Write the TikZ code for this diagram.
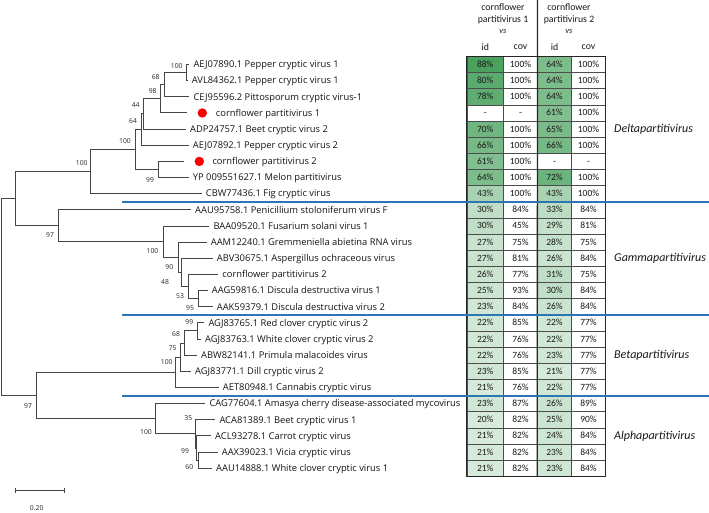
\documentclass[tikz,border=0pt]{standalone}
\usepackage{fontspec}
\newfontfamily\treefont{Open Sans}
\newfontfamily\tabfont{Carlito}
\definecolor{tline}{RGB}{70,70,70}
\definecolor{gmax}{RGB}{74,162,94}
\definecolor{bline}{RGB}{46,117,182}
\definecolor{dotred}{RGB}{250,0,0}
\newcommand\cellval[1]{\ifnum#1=0 -\else#1\%\fi}
\begin{document}
\begin{tikzpicture}[x=1pt,y=-1pt,
  tree/.style={draw=tline, line width=1pt},
  leaf/.style={anchor=west, inner sep=0pt, text height=8.5pt, text depth=2pt, font=\treefont\fontsize{9.35}{11}\selectfont, text=black!92},
  boot/.style={inner sep=0pt, font=\treefont\fontsize{6.8}{8}\selectfont, text=black!85},
  cell/.style={draw=black!70, line width=0.5pt, minimum height=16.15pt, inner sep=0pt, font=\tabfont\fontsize{9.5}{11}\selectfont, text height=6.5pt, text depth=0.6pt, text=black!90},
  head/.style={inner sep=0pt, font=\tabfont\fontsize{9.8}{11}\selectfont, text=black!90},
  grp/.style={anchor=west, inner sep=0pt, font=\tabfont\itshape\fontsize{12}{14}\selectfont, text=black!90},
  rdot/.style={circle, fill=dotred, minimum size=9.4pt, inner sep=0pt},
  sep/.style={draw=bline, line width=1.7pt}]
\useasboundingbox (0,0) rectangle (709,512);
\fill[white] (0,0) rectangle (709,512);

% ---------- table ----------
\foreach \a/\b/\c/\d [count=\i] in {88/100/64/100, 80/100/64/100, 78/100/64/100, 0/0/61/100, 70/100/65/100, 66/100/66/100, 61/100/0/0, 64/100/72/100, 43/100/43/100, 30/84/33/84, 30/45/29/81, 27/75/28/75, 27/81/26/84, 26/77/31/75, 25/93/30/84, 23/84/26/84, 22/85/22/77, 22/76/22/77, 22/76/23/77, 23/85/21/77, 21/76/22/77, 23/87/26/89, 20/82/25/90, 21/82/24/84, 21/82/23/84, 21/82/23/84}{
  \pgfmathsetmacro\yy{64.5+(\i-1)*16.15}
  \pgfmathtruncatemacro\pa{\a*100/88}
  \pgfmathtruncatemacro\pc{\c*100/88}
  \node[cell, minimum width=36.5pt, fill=gmax!\pa!white] (t\i-a) at (485.25,\yy) {\cellval\a};
  \node[cell, minimum width=34pt, fill=white] (t\i-b) at (520.5,\yy) {\cellval\b};
  \node[cell, minimum width=34pt, fill=gmax!\pc!white] (t\i-c) at (554.5,\yy) {\cellval\c};
  \node[cell, minimum width=34pt, fill=white] (t\i-d) at (588.5,\yy) {\cellval\d};
}
\draw[line width=1.3pt, black!85] (t1-a.north west) rectangle (t26-d.south east);
\coordinate (vtop) at (537.5,0);
\draw[line width=1.3pt, black!85] (vtop) -- (t26-c.south west);

% headers
\node[head] (h1a) at (503,7) {cornflower};
\node[head] (h1b) at (503,20) {partitivirus 1};
\node[head, font=\tabfont\itshape\fontsize{8.5}{9}\selectfont] (h1c) at (503,31.7) {vs};
\node[head] (h2a) at (569,7) {cornflower};
\node[head] (h2b) at (569,20) {partitivirus 2};
\node[head, font=\tabfont\itshape\fontsize{8.5}{9}\selectfont] (h2c) at (569,31.7) {vs};
\node[head] (hid1) at (485.25,46.7) {id};
\node[head] (hcov1) at (520.5,46.7) {cov};
\node[head] (hid2) at (554.5,46.7) {id};
\node[head] (hcov2) at (588.5,46.7) {cov};

% group labels
\node[grp] (gD) at (614,129.1) {Deltapartitivirus};
\node[grp] (gG) at (614,258.3) {Gammapartitivirus};
\node[grp] (gB) at (614,355.2) {Betapartitivirus};
\node[grp] (gA) at (614,435.95) {Alphapartitivirus};

% ---------- leaves ----------
\node[leaf] (l1) at (193.3,64.5) {AEJ07890.1 Pepper cryptic virus 1};
\node[leaf] (l2) at (191.7,80.65) {AVL84362.1 Pepper cryptic virus 1};
\node[leaf] (l3) at (193.3,96.8) {CEJ95596.2 Pittosporum cryptic virus-1};
\node[rdot] (d4) at (202.3,112.95) {};
\node[leaf] (l4) at (215.7,112.95) {cornflower partitivirus 1};
\coordinate (e4) at (186.7,112.95);
\node[leaf] (l5) at (190,129.1) {ADP24757.1 Beet cryptic virus 2};
\node[leaf] (l6) at (192.7,145.25) {AEJ07892.1 Pepper cryptic virus 2};
\node[rdot] (d7) at (199.3,161.4) {};
\node[leaf] (l7) at (212.3,161.4) {cornflower partitivirus 2};
\coordinate (e7) at (184.3,161.4);
\node[leaf] (l8) at (192.7,177.55) {YP 009551627.1 Melon partitivirus};
\node[leaf] (l9) at (205.7,193.7) {CBW77436.1 Fig cryptic virus};
\node[leaf] (l10) at (195,209.85) {AAU95758.1 Penicillium stoloniferum virus F};
\node[leaf] (l11) at (213.3,226) {BAA09520.1 Fusarium solani virus 1};
\node[leaf] (l12) at (210.7,242.15) {AAM12240.1 Gremmeniella abietina RNA virus};
\node[leaf] (l13) at (216.7,258.3) {ABV30675.1 Aspergillus ochraceous virus};
\node[leaf] (l14) at (222.2,274.45) {cornflower partitivirus 2};
\node[leaf] (l15) at (211.7,290.6) {AAG59816.1 Discula destructiva virus 1};
\node[leaf] (l16) at (216.7,306.75) {AAK59379.1 Discula destructiva virus 2};
\node[leaf] (l17) at (208.3,322.9) {AGJ83765.1 Red clover cryptic virus 2};
\node[leaf] (l18) at (205,339.05) {AGJ83763.1 White clover cryptic virus 2};
\node[leaf] (l19) at (201,355.2) {ABW82141.1 Primula malacoides virus};
\node[leaf] (l20) at (195,371.35) {AGJ83771.1 Dill cryptic virus 2};
\node[leaf] (l21) at (222.7,387.5) {AET80948.1 Cannabis cryptic virus};
\node[leaf] (l22) at (209.3,403.65) {CAG77604.1 Amasya cherry disease-associated mycovirus};
\node[leaf] (l23) at (219.3,419.8) {ACA81389.1 Beet cryptic virus 1};
\node[leaf] (l24) at (215,435.95) {ACL93278.1 Carrot cryptic virus};
\node[leaf] (l25) at (221.7,452.1) {AAX39023.1 Vicia cryptic virus};
\node[leaf] (l26) at (216,468.25) {AAU14888.1 White clover cryptic virus 1};

% ---------- internal nodes ----------
\coordinate (n1) at (186,72.575);
\coordinate (n68) at (164.5,84.69);
\coordinate (n98) at (160.8,98.82);
\coordinate (n44) at (143.8,113.96);
\coordinate (n64) at (141.3,129.6);
\coordinate (n99) at (158.7,169.48);
\coordinate (n100b) at (135,149.54);
\coordinate (nD) at (90,171.62);
\coordinate (n95) at (198.3,298.68);
\coordinate (n53) at (188.3,286.56);
\coordinate (n48) at (181.7,272.43);
\coordinate (n90) at (178.3,257.29);
\coordinate (n100g) at (163.3,241.65);
\coordinate (nG) at (58.3,225.75);
\coordinate (nDG) at (15,198.69);
\coordinate (n99b) at (197.3,330.98);
\coordinate (n68b) at (184.3,343.09);
\coordinate (n75) at (180,357.22);
\coordinate (nB) at (175.7,372.36);
\coordinate (n99a) at (198.3,460.18);
\coordinate (n60) at (196.7,448.06);
\coordinate (n35) at (195,433.93);
\coordinate (nA) at (155,418.79);
\coordinate (nBA) at (36.7,395.58);
\coordinate (root) at (1.7,297.13);

% ---------- branches ----------
\begin{scope}[tree]
\draw (n1) |- ([xshift=-4pt]l1.west);
\draw (n1) |- ([xshift=-4pt]l2.west);
\draw (n68) |- (n1);
\draw (n68) |- ([xshift=-4pt]l3.west);
\draw (n98) |- (n68);
\draw (n98) |- (e4);
\draw (n44) |- (n98);
\draw (n44) |- ([xshift=-4pt]l5.west);
\draw (n64) |- (n44);
\draw (n64) |- ([xshift=-4pt]l6.west);
\draw (n99) |- (e7);
\draw (n99) |- ([xshift=-4pt]l8.west);
\draw (n100b) |- (n64);
\draw (n100b) |- (n99);
\draw (nD) |- (n100b);
\draw (nD) |- ([xshift=-4pt]l9.west);
\draw (nDG) |- (nD);
\draw (nDG) |- (nG);
\draw (nG) |- ([xshift=-4pt]l10.west);
\draw (nG) |- (n100g);
\draw (n100g) |- ([xshift=-4pt]l11.west);
\draw (n100g) |- (n90);
\draw (n90) |- ([xshift=-4pt]l12.west);
\draw (n90) |- (n48);
\draw (n48) |- ([xshift=-4pt]l13.west);
\draw (n48) |- (n53);
\draw (n53) |- ([xshift=-4pt]l14.west);
\draw (n53) |- (n95);
\draw (n95) |- ([xshift=-4pt]l15.west);
\draw (n95) |- ([xshift=-4pt]l16.west);
\draw (root) |- (nDG);
\draw (root) |- (nBA);
\draw (nBA) |- (nB);
\draw (nBA) |- (nA);
\draw (nB) |- (n75);
\draw (nB) |- ([xshift=-4pt]l21.west);
\draw (n75) |- (n68b);
\draw (n75) |- ([xshift=-4pt]l20.west);
\draw (n68b) |- (n99b);
\draw (n68b) |- ([xshift=-4pt]l19.west);
\draw (n99b) |- ([xshift=-4pt]l17.west);
\draw (n99b) |- ([xshift=-4pt]l18.west);
\draw (nA) |- ([xshift=-4pt]l22.west);
\draw (nA) |- (n35);
\draw (n35) |- ([xshift=-4pt]l23.west);
\draw (n35) |- (n60);
\draw (n60) |- ([xshift=-4pt]l24.west);
\draw (n60) |- (n99a);
\draw (n99a) |- ([xshift=-4pt]l25.west);
\draw (n99a) |- ([xshift=-4pt]l26.west);
\end{scope}

% blue separators (drawn last)
\coordinate (s1a) at (122,201.75); \coordinate (s1b) at (709,201.75);
\coordinate (s2a) at (122,314.8);  \coordinate (s2b) at (709,314.8);
\coordinate (s3a) at (122,395.85); \coordinate (s3b) at (709,395.85);
\draw[sep] (s1a) -- (s1b);
\draw[sep] (s2a) -- (s2b);
\draw[sep] (s3a) -- (s3b);

% ---------- bootstrap values ----------
\node[boot] (b1) at (176.7,65.7) {100};
\node[boot] (b2) at (155.7,76.7) {68};
\node[boot] (b3) at (152.7,91) {98};
\node[boot] (b4) at (135.7,105) {44};
\node[boot] (b5) at (133,121) {64};
\node[boot] (b6) at (125,141) {100};
\node[boot] (b7) at (81.7,163.3) {100};
\node[boot] (b8) at (150,180) {99};
\node[boot] (b9) at (50,235.5) {97};
\node[boot] (b10) at (152.5,251.5) {100};
\node[boot] (b11) at (169.3,266.7) {90};
\node[boot] (b12) at (165,282.3) {48};
\node[boot] (b13) at (180,296) {53};
\node[boot] (b14) at (190,308.3) {95};
\node[boot] (b15) at (189.3,321.7) {99};
\node[boot] (b16) at (176,334) {68};
\node[boot] (b17) at (172.7,347.7) {75};
\node[boot] (b18) at (166.7,362.3) {100};
\node[boot] (b19) at (28,406) {97};
\node[boot] (b20) at (146,431.7) {100};
\node[boot] (b21) at (188.3,417.7) {35};
\node[boot] (b22) at (185,451) {99};
\node[boot] (b23) at (189.3,466.7) {60};

% ---------- scale bar ----------
\coordinate (sb1) at (15,490);
\coordinate (sb2) at (64.3,490);
\draw[tree] (sb1) -- (sb2);
\draw[tree] ([yshift=-2.5pt]sb1) -- ([yshift=2.5pt]sb1);
\draw[tree] ([yshift=-2.5pt]sb2) -- ([yshift=2.5pt]sb2);
\node[boot] (sbl) at (36.7,508.3) {0.20};
\end{tikzpicture}
\end{document}
